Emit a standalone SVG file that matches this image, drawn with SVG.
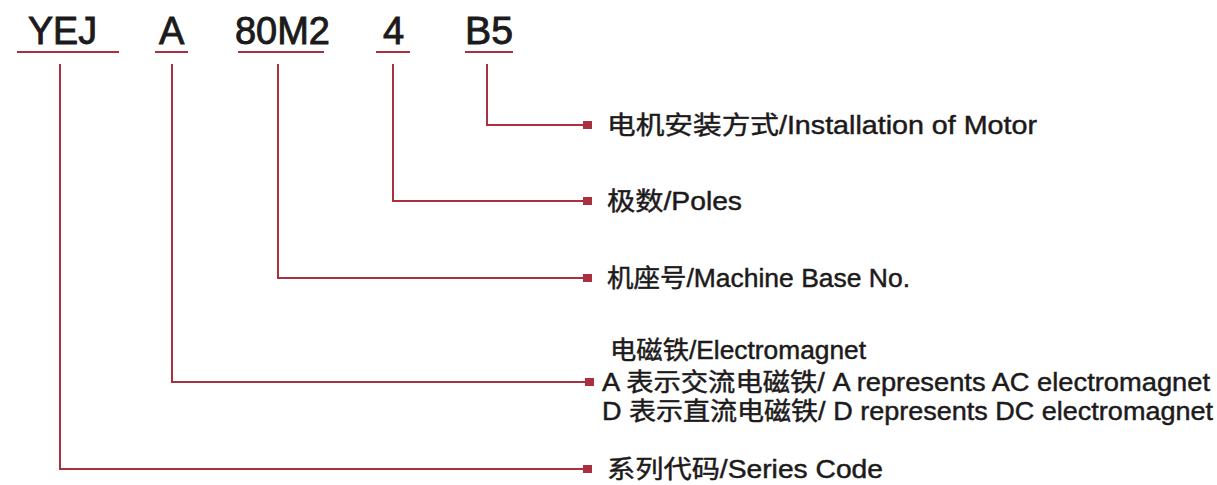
<svg xmlns="http://www.w3.org/2000/svg" width="1217" height="485" viewBox="0 0 1217 485">
<style>
.code{font-family:"Liberation Sans","Noto Sans CJK SC",sans-serif;font-size:38px;fill:#1c1a1b;stroke:#1c1a1b;stroke-width:0.9}
.lbl{font-family:"Liberation Sans","Noto Sans CJK SC",sans-serif;font-size:25px;fill:#1c1a1b;stroke:#1c1a1b;stroke-width:0.45}
.ln{stroke:#a8303f;stroke-width:2;fill:none}
.mk{fill:#a8303f}
</style>
<rect width="1217" height="485" fill="#ffffff"/>
<g id="codes">
<g id="code-yej"><text class="code" x="28" y="44" textLength="69" lengthAdjust="spacingAndGlyphs">YEJ</text><line class="ln" x1="17" y1="52" x2="119" y2="52"/></g>
<g id="code-a"><text class="code" x="159" y="44">A</text><line class="ln" x1="155" y1="52" x2="188" y2="52"/></g>
<g id="code-80m2"><text class="code" x="235" y="44" textLength="95" lengthAdjust="spacingAndGlyphs">80M2</text><line class="ln" x1="238" y1="52" x2="324" y2="52"/></g>
<g id="code-4"><text class="code" x="383" y="44">4</text><line class="ln" x1="376" y1="52" x2="410" y2="52"/></g>
<g id="code-b5"><text class="code" x="465" y="44" textLength="48" lengthAdjust="spacingAndGlyphs">B5</text><line class="ln" x1="465" y1="52" x2="513" y2="52"/></g>
</g>
<g id="connectors">
<polyline class="ln" points="487,64 487,125 585,125"/>
<polyline class="ln" points="393,64 393,201 585,201"/>
<polyline class="ln" points="278,64 278,278 585,278"/>
<polyline class="ln" points="172,64 172,382 585,382"/>
<polyline class="ln" points="60,64 60,469 585,469"/>
<rect class="mk" x="583" y="121" width="9" height="8"/>
<rect class="mk" x="583" y="197" width="9" height="8"/>
<rect class="mk" x="583" y="274" width="9" height="8"/>
<rect class="mk" x="585" y="378" width="9" height="8"/>
<rect class="mk" x="583" y="465" width="9" height="8"/>
</g>
<g id="label-installation"><text class="lbl" x="607" y="134" textLength="430" lengthAdjust="spacingAndGlyphs">电机安装方式/Installation of Motor</text></g>
<g id="label-poles"><text class="lbl" x="607" y="210" textLength="135" lengthAdjust="spacingAndGlyphs">极数/Poles</text></g>
<g id="label-base"><text class="lbl" x="607" y="287" textLength="303" lengthAdjust="spacingAndGlyphs">机座号/Machine Base No.</text></g>
<g id="label-electromagnet">
<text class="lbl" x="610" y="359" textLength="256" lengthAdjust="spacingAndGlyphs">电磁铁/Electromagnet</text>
<text class="lbl" x="602" y="391" textLength="608" lengthAdjust="spacingAndGlyphs">A 表示交流电磁铁/ A represents AC electromagnet</text>
<text class="lbl" x="602" y="420" textLength="611" lengthAdjust="spacingAndGlyphs">D 表示直流电磁铁/ D represents DC electromagnet</text>
</g>
<g id="label-series"><text class="lbl" x="607" y="478" textLength="276" lengthAdjust="spacingAndGlyphs">系列代码/Series Code</text></g>
</svg>
